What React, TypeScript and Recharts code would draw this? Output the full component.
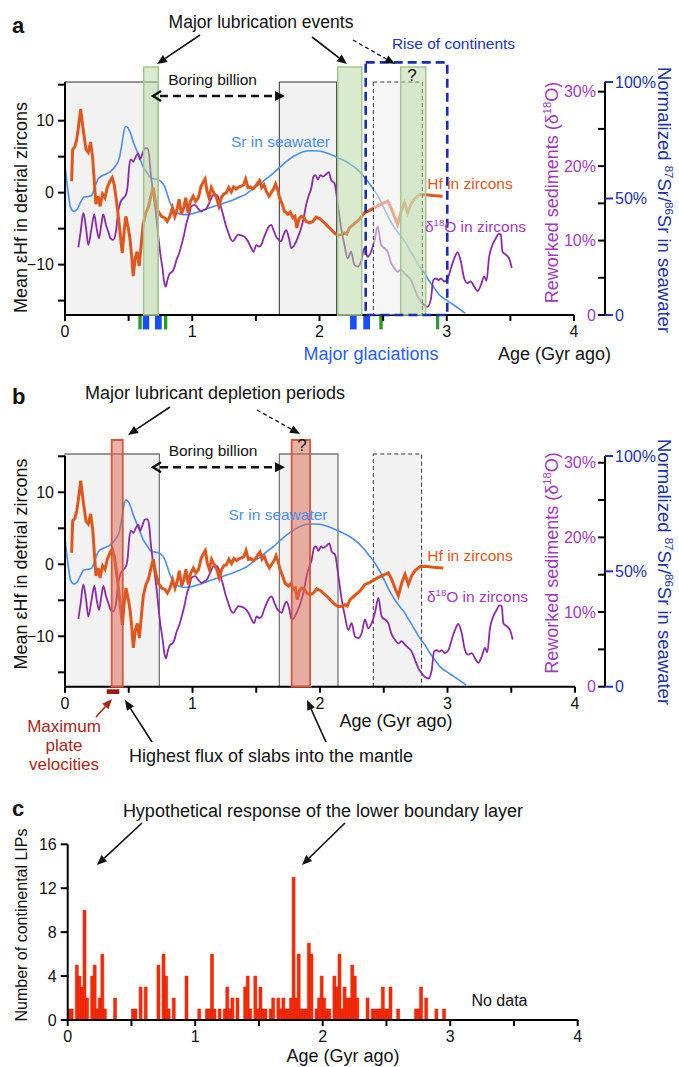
import React from 'react';
import {
  ComposedChart,
  Bar,
  Line,
  XAxis,
  YAxis,
  ReferenceArea,
  ReferenceLine,
} from 'recharts';

const FONT = '"Liberation Sans", Arial, Helvetica, sans-serif';

// ---------- data (age in Gyr ago) ----------
// mean εHf in detrital zircons
const hfCurve: [number, number][] = [
  [0.052, 1.6], [0.06, 6.0], [0.078, 6.4], [0.092, 7.4], [0.105, 9.0], [0.123, 11.6], [0.144, 8.6],
  [0.165, 6.0], [0.183, 5.6], [0.201, 7.0], [0.217, 4.9], [0.23, 1.6], [0.243, -1.6], [0.261, -0.5],
  [0.275, -1.9], [0.295, -0.2], [0.314, -0.7], [0.332, 0.7], [0.353, 1.6], [0.371, 2.1], [0.387, 1.1],
  [0.405, -1.2], [0.426, -4.4], [0.439, -6.7], [0.45, -8.4], [0.465, -5.3], [0.478, -3.3], [0.497, -4.9],
  [0.51, -6.3], [0.523, -8.6], [0.536, -11.6], [0.552, -9.1], [0.567, -8.2], [0.583, -10.2], [0.599, -7.2],
  [0.614, -4.4], [0.635, -2.8], [0.654, -2.1], [0.672, -0.7], [0.693, 0.7], [0.711, -1.2], [0.732, -2.6],
  [0.758, -3.3], [0.784, -3.5], [0.803, -4.0], [0.824, -3.3], [0.844, -2.1], [0.863, -3.3], [0.881, -2.3],
  [0.897, -0.9], [0.915, -3.0], [0.933, -2.1], [0.949, -0.7], [0.967, -2.8], [0.986, -1.2], [1.007, -0.5],
  [1.027, -1.2], [1.048, -0.7], [1.069, 0.9], [1.09, 1.6], [1.101, 1.9], [1.116, 0.2], [1.132, -0.7],
  [1.15, 0.7], [1.169, 0.0], [1.19, -0.7], [1.21, -1.9], [1.229, -0.7], [1.247, -0.2], [1.268, 0.0],
  [1.286, 0.7], [1.307, 0.1], [1.325, 0.8], [1.346, 0.5], [1.367, 0.8], [1.386, 0.9], [1.404, 1.1],
  [1.42, 1.9], [1.438, 0.7], [1.456, 0.8], [1.477, 0.5], [1.498, 0.9], [1.516, 1.4], [1.529, 1.7],
  [1.545, 0.7], [1.563, 1.1], [1.582, 0.2], [1.603, -0.5], [1.621, 0.0], [1.639, 0.5], [1.655, 1.2],
  [1.673, 0.3], [1.686, -0.7], [1.707, -1.6], [1.725, -2.6], [1.752, -3.0], [1.77, -2.7], [1.791, -3.5],
  [1.807, -3.3], [1.822, -4.9], [1.838, -3.7], [1.856, -3.3], [1.875, -3.4], [1.895, -4.0], [1.922, -4.2],
  [1.948, -4.0], [1.974, -3.4], [2.0, -3.6], [2.026, -4.0], [2.052, -4.4], [2.078, -4.9], [2.118, -5.6],
  [2.144, -5.9], [2.178, -5.8], [2.196, -5.6], [2.214, -5.8], [2.235, -4.9], [2.275, -4.3], [2.314, -3.7],
  [2.353, -2.8], [2.392, -2.5], [2.431, -2.1], [2.471, -1.7], [2.51, -1.4], [2.536, -1.2], [2.562, -2.1],
  [2.588, -3.3], [2.614, -4.4], [2.641, -2.6], [2.667, -1.4], [2.693, -2.8], [2.719, -1.6], [2.745, -0.9],
  [2.784, -0.3], [2.837, -0.3], [2.889, -0.4], [2.967, -0.5],
];

// reworked sediments from δ18O in zircons (%)
const o18Curve: [number, number][] = [
  [0.105, 9.1], [0.123, 11.2], [0.144, 13.7], [0.165, 11.7], [0.183, 9.4], [0.209, 11.7], [0.23, 13.5],
  [0.248, 11.7], [0.267, 10.3], [0.285, 12.1], [0.301, 13.5], [0.322, 12.1], [0.34, 11.2], [0.358, 10.3],
  [0.379, 10.1], [0.4, 11.2], [0.418, 13.9], [0.437, 15.2], [0.458, 15.7], [0.478, 16.1], [0.492, 17.3],
  [0.505, 20.0], [0.518, 20.9], [0.536, 20.6], [0.557, 21.3], [0.575, 21.7], [0.588, 20.9], [0.609, 21.7],
  [0.627, 22.4], [0.646, 22.4], [0.661, 21.5], [0.672, 19.3], [0.688, 17.0], [0.703, 15.2], [0.719, 13.0],
  [0.735, 10.3], [0.75, 8.1], [0.766, 6.3], [0.779, 4.5], [0.792, 3.8], [0.805, 4.7], [0.824, 5.6],
  [0.842, 5.8], [0.858, 6.3], [0.876, 7.4], [0.897, 8.3], [0.915, 9.4], [0.936, 10.8], [0.954, 12.3],
  [0.975, 13.5], [0.993, 14.6], [1.02, 14.8], [1.046, 14.3], [1.072, 13.9], [1.09, 14.1], [1.111, 14.3],
  [1.132, 15.0], [1.15, 15.7], [1.163, 16.1], [1.184, 16.2], [1.203, 15.9], [1.221, 14.8], [1.242, 13.5],
  [1.263, 12.1], [1.281, 11.2], [1.299, 10.3], [1.32, 9.9], [1.341, 10.4], [1.36, 10.8], [1.386, 10.7],
  [1.412, 10.5], [1.438, 9.9], [1.464, 9.0], [1.482, 8.5], [1.503, 9.4], [1.524, 9.2], [1.542, 9.4],
  [1.561, 10.3], [1.582, 11.2], [1.603, 11.9], [1.621, 12.1], [1.639, 11.4], [1.66, 10.5], [1.681, 10.1],
  [1.699, 9.9], [1.718, 10.8], [1.739, 11.4], [1.76, 10.3], [1.778, 9.0], [1.796, 9.2], [1.817, 9.9],
  [1.838, 10.8], [1.856, 11.7], [1.875, 13.0], [1.895, 14.8], [1.916, 16.1], [1.935, 17.0], [1.953, 18.6],
  [1.969, 18.8], [1.987, 18.2], [2.008, 18.8], [2.026, 18.6], [2.052, 18.9], [2.073, 19.2], [2.092, 18.1],
  [2.118, 17.7], [2.144, 14.8], [2.17, 11.7], [2.196, 9.4], [2.222, 7.6], [2.248, 8.5], [2.275, 6.7],
  [2.301, 6.5], [2.327, 7.2], [2.353, 9.0], [2.379, 7.8], [2.405, 8.5], [2.431, 9.9], [2.458, 11.9],
  [2.484, 9.4], [2.51, 9.0], [2.536, 8.5], [2.562, 7.0], [2.588, 6.3], [2.614, 5.8], [2.641, 6.1],
  [2.667, 5.6], [2.693, 5.2], [2.719, 4.7], [2.745, 3.6], [2.771, 2.5], [2.797, 1.8], [2.824, 1.3],
  [2.85, 1.1], [2.876, 2.2], [2.894, 4.7], [2.915, 4.9], [2.936, 4.7], [2.954, 4.9], [2.98, 4.5],
  [3.007, 4.9], [3.033, 6.3], [3.059, 7.6], [3.085, 8.4], [3.111, 7.2], [3.137, 4.9], [3.163, 4.3],
  [3.19, 4.5], [3.216, 3.8], [3.242, 3.2], [3.268, 4.0], [3.294, 5.2], [3.312, 4.6], [3.333, 7.8],
  [3.359, 9.4], [3.386, 10.3], [3.407, 10.9], [3.425, 10.8], [3.438, 8.5], [3.464, 8.1], [3.49, 7.6],
  [3.511, 6.3],
];

// normalized 87Sr/86Sr in seawater (%)
const srCurve: [number, number][] = [
  [0.0, 64.3], [0.026, 52.0], [0.044, 46.2], [0.071, 44.5], [0.097, 45.5], [0.123, 48.4], [0.149, 50.6],
  [0.183, 50.9], [0.209, 51.3], [0.235, 54.9], [0.261, 58.5], [0.301, 60.0], [0.353, 61.4], [0.392, 63.6],
  [0.426, 67.2], [0.444, 72.3], [0.458, 77.3], [0.476, 80.9], [0.497, 80.2], [0.515, 78.0], [0.536, 74.4],
  [0.562, 70.8], [0.588, 67.2], [0.614, 63.6], [0.641, 61.4], [0.667, 59.2], [0.693, 58.5], [0.732, 58.1],
  [0.758, 57.2], [0.784, 55.0], [0.803, 52.0], [0.824, 48.4], [0.85, 45.5], [0.876, 44.1], [0.902, 43.4],
  [0.928, 43.1], [0.967, 43.1], [1.007, 43.6], [1.059, 44.4], [1.111, 45.5], [1.163, 46.5], [1.216, 47.4],
  [1.268, 48.4], [1.32, 49.4], [1.373, 50.6], [1.425, 52.0], [1.477, 54.2], [1.529, 56.1], [1.582, 58.5],
  [1.634, 60.7], [1.686, 63.3], [1.739, 65.8], [1.791, 67.9], [1.843, 69.4], [1.895, 70.4], [1.948, 70.5],
  [2.0, 70.4], [2.078, 69.1], [2.157, 67.2], [2.235, 65.0], [2.288, 62.9], [2.34, 60.0], [2.392, 56.4],
  [2.431, 53.5], [2.471, 49.9], [2.51, 45.5], [2.549, 41.2], [2.588, 37.6], [2.627, 34.7], [2.667, 31.8],
  [2.706, 28.2], [2.745, 24.6], [2.784, 21.0], [2.824, 18.1], [2.863, 14.5], [2.902, 11.6], [2.941, 8.7],
  [2.993, 6.5], [3.046, 4.6], [3.098, 2.6], [3.145, 0.7],
];

// number of continental LIPs per 20 Myr bin (bin start age, count)
const lipAges = [
  0.0, 0.02, 0.06, 0.08, 0.1, 0.12, 0.14, 0.18, 0.2, 0.22, 0.24, 0.26, 0.28, 0.36, 0.5, 0.52, 0.56, 0.6,
  0.7, 0.74, 0.76, 0.78, 0.82, 0.92, 1.02, 1.08, 1.1, 1.12, 1.14, 1.18, 1.22, 1.24, 1.26, 1.28, 1.32,
  1.38, 1.4, 1.42, 1.46, 1.48, 1.5, 1.52, 1.54, 1.58, 1.6, 1.64, 1.66, 1.68, 1.7, 1.72, 1.74, 1.76, 1.78,
  1.8, 1.82, 1.84, 1.86, 1.88, 1.9, 1.94, 1.96, 1.98, 2.0, 2.02, 2.04, 2.08, 2.1, 2.12, 2.14, 2.16, 2.18,
  2.2, 2.22, 2.24, 2.26, 2.34, 2.38, 2.4, 2.42, 2.44, 2.46, 2.48, 2.5, 2.52, 2.58, 2.72, 2.74, 2.76, 2.8,
  2.88, 2.94,
];
const lipCounts = [
  1, 1, 5, 4, 3, 10, 2, 4, 5, 1, 2, 6, 1, 2, 1, 1, 3, 3,
  5, 6, 4, 1, 2, 4, 1, 1, 1, 6, 1, 1, 1, 3, 1, 2, 2,
  3, 4, 1, 4, 1, 3, 1, 1, 1, 2, 2, 1, 2, 1, 1, 2, 13, 2,
  6, 1, 1, 1, 7, 6, 1, 2, 4, 2, 1, 1, 4, 3, 6, 1, 3, 2,
  2, 5, 4, 2, 2, 1, 1, 1, 1, 3, 1, 1, 3, 1, 1, 1, 3, 2,
  1, 1,
];

// shaded intervals (Gyr)
const grayBoxesA: [number, number][] = [[0, 0.733], [1.684, 2.135]];
const greenBarsA: [number, number][] = [[0.618, 0.733], [2.143, 2.332], [2.638, 2.835]];
const riseOfContinents: [number, number] = [2.363, 3.004];
const dashedBoxA: [number, number] = [2.423, 2.808];
const glacBlue: [number, number][] = [[0.611, 0.662], [0.707, 0.76], [2.24, 2.292], [2.344, 2.397]];
const glacGreen: [number, number][] = [[0.576, 0.603], [0.778, 0.804], [2.47, 2.497], [2.916, 2.941]];

const grayBoxesB: [number, number][] = [[0, 0.74], [1.681, 2.141]];
const dashedBoxB: [number, number] = [2.418, 2.797];
const redBarsB: [number, number][] = [[0.366, 0.453], [1.778, 1.922]];
const maxPlateVel: [number, number] = [0.327, 0.426];

// ticks
const AGE_TICKS = [0, 0.5, 1, 1.5, 2, 2.5, 3, 3.5, 4];
const HF_TICKS = [-15, -10, -5, 0, 5, 10, 15];
const O_TICKS = [0, 5, 10, 15, 20, 25, 30];
const O_LABELED = [0, 10, 20, 30];
const SR_TICKS = [0, 50, 100];
const LIP_TICKS = [0, 4, 8, 12, 16];

// ---------- colours ----------
const HF_COLOR = '#e0571b';
const O_COLOR = '#8c2ba8';
const SR_COLOR = '#4a8ef2';
const O_LABEL = '#a03bbd';
const SR_AXIS = '#2233a8';

const toPts = (arr: [number, number][]) => arr.map(([age, v]) => ({ age, v }));
const hfData = toPts(hfCurve);
const o18Data = toPts(o18Curve);
const srData = toPts(srCurve);

const BIN = 0.02;
const lipTable = Array.from({ length: 200 }, (_, i) => {
  const k = lipAges.findIndex((a) => Math.round(a / BIN) === i);
  return { bin: i, age: i * BIN + BIN / 2, n: k >= 0 ? lipCounts[k] : 0 };
});

const ageFmt = (v: number) => (Number.isInteger(v) ? String(v) : '');
const hfFmt = (v: number) => (v % 10 === 0 ? (v < 0 ? '\u2212' + Math.abs(v) : String(v)) : '');

const tickStyle = { fill: '#111', fontSize: 16, fontFamily: FONT };

function rightTicks(oMax: number) {
  const all = [...O_TICKS, ...SR_TICKS.map((s) => (s * oMax) / 100)];
  return Array.from(new Set(all)).sort((a, b) => a - b);
}

function RightTick(props: any) {
  const { x, y, payload, oMax } = props;
  const v = payload.value as number;
  const isO = O_TICKS.some((t) => Math.abs(t - v) < 1e-6);
  const sr = SR_TICKS.find((s) => Math.abs((s * oMax) / 100 - v) < 1e-6);
  return (
    <g>
      {isO && <line x1={x - 7} x2={x} y1={y} y2={y} stroke="#000" strokeWidth={2} />}
      {isO && O_LABELED.includes(v) && (
        <text x={x - 9} y={y} dy="0.36em" textAnchor="end" fill={O_LABEL} fontSize={16} fontFamily={FONT}>
          {v === 0 ? '0' : `${v}%`}
        </text>
      )}
      {sr !== undefined && <line x1={x} x2={x + 8} y1={y} y2={y} stroke={SR_AXIS} strokeWidth={2} />}
      {sr !== undefined && (
        <text x={x + 10} y={y} dy="0.36em" textAnchor="start" fill={SR_AXIS} fontSize={16} fontFamily={FONT}>
          {sr === 0 ? '0' : `${sr}%`}
        </text>
      )}
    </g>
  );
}

// ---------- panel a ----------
function PanelA() {
  const xMax = 4.2436;
  const hfMin = -17;
  const hfMax = 15.375;
  const oMax = 31.3;
  return (
    <div style={{ position: 'absolute', left: 0, top: 0 }}>
      <ComposedChart width={679} height={370} margin={{ top: 82, right: 14, bottom: 25, left: 20 }}>
        <XAxis
          dataKey="age"
          type="number"
          domain={[0, xMax]}
          allowDataOverflow
          ticks={AGE_TICKS}
          interval={0}
          tickFormatter={ageFmt}
          axisLine={false}
          tickLine={{ stroke: '#000', strokeWidth: 2 }}
          tickSize={6}
          tickMargin={5}
          height={30}
          tick={tickStyle}
        />
        <YAxis
          yAxisId="hf"
          domain={[hfMin, hfMax]}
          allowDataOverflow
          ticks={HF_TICKS}
          interval={0}
          tickFormatter={hfFmt}
          width={45}
          axisLine={{ stroke: '#000', strokeWidth: 2 }}
          tickLine={{ stroke: '#000', strokeWidth: 2 }}
          tickSize={7}
          tickMargin={4}
          tick={tickStyle}
        />
        <YAxis
          yAxisId="o"
          orientation="right"
          domain={[0, oMax]}
          allowDataOverflow
          ticks={rightTicks(oMax)}
          interval={0}
          width={60}
          axisLine={{ stroke: '#000', strokeWidth: 2 }}
          tickLine={false}
          tickSize={0}
          tickMargin={0}
          tick={(p: any) => <RightTick {...p} oMax={oMax} />}
        />
        <YAxis yAxisId="sr" hide domain={[0, 100]} allowDataOverflow />

        {grayBoxesA.map(([a, b], i) => (
          <ReferenceArea
            key={'ga' + i}
            yAxisId="hf"
            x1={a}
            x2={b}
            y1={hfMin}
            y2={hfMax}
            fill="#f2f2f2"
            fillOpacity={1}
            stroke="#2d2d2d"
            strokeWidth={1}
            ifOverflow="visible"
          />
        ))}

        <Line data={srData} dataKey="v" yAxisId="sr" type="monotone" stroke={SR_COLOR} strokeWidth={1.6} dot={false} isAnimationActive={false} />
        <Line data={o18Data} dataKey="v" yAxisId="o" type="monotone" stroke={O_COLOR} strokeWidth={1.8} dot={false} isAnimationActive={false} />
        <Line data={hfData} dataKey="v" yAxisId="hf" type="linear" stroke={HF_COLOR} strokeWidth={3} dot={false} isAnimationActive={false} />

        <ReferenceArea
          yAxisId="hf"
          x1={dashedBoxA[0]}
          x2={dashedBoxA[1]}
          y1={hfMin}
          y2={hfMax}
          fill="#eeeeee"
          fillOpacity={0.55}
          stroke="#333"
          strokeWidth={1}
          strokeDasharray="4 3"
          ifOverflow="visible"
          zIndex={450}
        />
        {greenBarsA.map(([a, b], i) => (
          <ReferenceArea
            key={'gr' + i}
            yAxisId="hf"
            x1={a}
            x2={b}
            y1={hfMin}
            y2={17.46}
            fill="#b3d59d"
            fillOpacity={0.5}
            stroke="#a2c98b"
            strokeWidth={1.5}
            ifOverflow="visible"
            zIndex={460}
          />
        ))}
        <ReferenceArea
          yAxisId="hf"
          x1={riseOfContinents[0]}
          x2={riseOfContinents[1]}
          y1={hfMin}
          y2={18.1}
          fill="none"
          fillOpacity={0}
          stroke="#1b2eb0"
          strokeWidth={2.6}
          strokeDasharray="9 5"
          ifOverflow="visible"
          zIndex={470}
        />
        {glacBlue.map(([a, b], i) => (
          <ReferenceArea key={'gb' + i} yAxisId="hf" x1={a} x2={b} y1={-17.1} y2={-19} fill="#1a4cff" fillOpacity={1} stroke="none" ifOverflow="visible" />
        ))}
        {glacGreen.map(([a, b], i) => (
          <ReferenceArea key={'gg' + i} yAxisId="hf" x1={a} x2={b} y1={-17.1} y2={-19} fill="#279a2a" fillOpacity={1} stroke="none" ifOverflow="visible" />
        ))}
        <ReferenceLine
          yAxisId="hf"
          segment={[{ x: 0, y: hfMin }, { x: 4, y: hfMin }]}
          stroke="#000"
          strokeWidth={2}
          ifOverflow="visible"
        />
      </ComposedChart>
    </div>
  );
}

// ---------- panel b ----------
function PanelB() {
  const xMax = 4.2353;
  const hfMin = -17;
  const hfMax = 15.04;
  const oMax = 30.9;
  return (
    <div style={{ position: 'absolute', left: 0, top: 375 }}>
      <ComposedChart width={679} height={400} margin={{ top: 81, right: 14, bottom: 58.3, left: 20 }}>
        <XAxis
          dataKey="age"
          type="number"
          domain={[0, xMax]}
          allowDataOverflow
          ticks={AGE_TICKS}
          interval={0}
          tickFormatter={ageFmt}
          axisLine={false}
          tickLine={{ stroke: '#000', strokeWidth: 2 }}
          tickSize={6}
          tickMargin={5}
          height={30}
          tick={tickStyle}
        />
        <YAxis
          yAxisId="hf"
          domain={[hfMin, hfMax]}
          allowDataOverflow
          ticks={HF_TICKS}
          interval={0}
          tickFormatter={hfFmt}
          width={45}
          axisLine={{ stroke: '#000', strokeWidth: 2 }}
          tickLine={{ stroke: '#000', strokeWidth: 2 }}
          tickSize={7}
          tickMargin={4}
          tick={tickStyle}
        />
        <YAxis
          yAxisId="o"
          orientation="right"
          domain={[0, oMax]}
          allowDataOverflow
          ticks={rightTicks(oMax)}
          interval={0}
          width={60}
          axisLine={{ stroke: '#000', strokeWidth: 2 }}
          tickLine={false}
          tickSize={0}
          tickMargin={0}
          tick={(p: any) => <RightTick {...p} oMax={oMax} />}
        />
        <YAxis yAxisId="sr" hide domain={[0, 100]} allowDataOverflow />

        {grayBoxesB.map(([a, b], i) => (
          <ReferenceArea
            key={'gb' + i}
            yAxisId="hf"
            x1={a}
            x2={b}
            y1={hfMin}
            y2={15.32}
            fill="#f2f2f2"
            fillOpacity={1}
            stroke="#777"
            strokeWidth={1.3}
            ifOverflow="visible"
          />
        ))}
        <ReferenceArea
          yAxisId="hf"
          x1={dashedBoxB[0]}
          x2={dashedBoxB[1]}
          y1={hfMin}
          y2={15.32}
          fill="#f2f2f2"
          fillOpacity={1}
          stroke="#333"
          strokeWidth={1}
          strokeDasharray="4 3"
          ifOverflow="visible"
        />

        <Line data={srData} dataKey="v" yAxisId="sr" type="monotone" stroke={SR_COLOR} strokeWidth={1.6} dot={false} isAnimationActive={false} />
        <Line data={o18Data} dataKey="v" yAxisId="o" type="monotone" stroke={O_COLOR} strokeWidth={1.8} dot={false} isAnimationActive={false} />
        <Line data={hfData} dataKey="v" yAxisId="hf" type="linear" stroke={HF_COLOR} strokeWidth={3} dot={false} isAnimationActive={false} />

        {redBarsB.map(([a, b], i) => (
          <ReferenceArea
            key={'rb' + i}
            yAxisId="hf"
            x1={a}
            x2={b}
            y1={hfMin}
            y2={17.26}
            fill="#df6a52"
            fillOpacity={0.52}
            stroke="#d6583a"
            strokeWidth={1.8}
            ifOverflow="visible"
            zIndex={460}
          />
        ))}
        <ReferenceArea
          yAxisId="hf"
          x1={maxPlateVel[0]}
          x2={maxPlateVel[1]}
          y1={-17.36}
          y2={-18.01}
          fill="#9b1a0e"
          fillOpacity={1}
          stroke="none"
          ifOverflow="visible"
        />
        <ReferenceLine
          yAxisId="hf"
          segment={[{ x: 0, y: hfMin }, { x: 4, y: hfMin }]}
          stroke="#000"
          strokeWidth={2}
          ifOverflow="visible"
        />
      </ComposedChart>
    </div>
  );
}

// ---------- panel c ----------
function PanelC() {
  return (
    <div style={{ position: 'absolute', left: 0, top: 780 }}>
      <ComposedChart
        width={679}
        height={287}
        data={lipTable}
        barCategoryGap={0}
        barGap={0}
        margin={{ top: 64.3, right: 101.3, bottom: 17, left: 22.7 }}
      >
        <XAxis xAxisId="bins" dataKey="bin" type="category" hide />
        <XAxis
          xAxisId="age"
          dataKey="age"
          type="number"
          domain={[0, 4]}
          allowDataOverflow
          ticks={AGE_TICKS}
          interval={0}
          tickFormatter={ageFmt}
          axisLine={{ stroke: '#000', strokeWidth: 2 }}
          tickLine={{ stroke: '#000', strokeWidth: 2 }}
          tickSize={6}
          tickMargin={5}
          height={30}
          tick={tickStyle}
        />
        <YAxis
          domain={[0, 16]}
          ticks={LIP_TICKS}
          interval={0}
          width={45}
          axisLine={{ stroke: '#000', strokeWidth: 2 }}
          tickLine={{ stroke: '#000', strokeWidth: 2 }}
          tickSize={7}
          tickMargin={4}
          tick={tickStyle}
        />
        <Bar xAxisId="bins" dataKey="n" fill="#ff2a00" stroke="#c41c00" strokeWidth={0.5} isAnimationActive={false} />
        <Line
          xAxisId="age"
          dataKey="n"
          stroke="none"
          strokeOpacity={0}
          dot={false}
          activeDot={false}
          legendType="none"
          isAnimationActive={false}
        />
      </ComposedChart>
    </div>
  );
}

// ---------- annotations ----------
function Arrow({ x1, y1, x2, y2, color = '#111', w = 1.6, dash, head = 10 }: any) {
  const ang = Math.atan2(y2 - y1, x2 - x1);
  const hx = x2 - head * Math.cos(ang);
  const hy = y2 - head * Math.sin(ang);
  const hw = head * 0.42;
  const p1 = `${hx + hw * Math.sin(ang)},${hy - hw * Math.cos(ang)}`;
  const p2 = `${hx - hw * Math.sin(ang)},${hy + hw * Math.cos(ang)}`;
  return (
    <g>
      <line x1={x1} y1={y1} x2={hx} y2={hy} stroke={color} strokeWidth={w} strokeDasharray={dash} />
      <polygon points={`${x2},${y2} ${p1} ${p2}`} fill={color} />
    </g>
  );
}

function DoubleArrow({ xa, xb, y }: any) {
  return (
    <g>
      <line x1={xa + 8} x2={xb - 8} y1={y} y2={y} stroke="#111" strokeWidth={2.6} strokeDasharray="8 5" />
      <polyline points={`${xa + 9},${y - 5} ${xa + 1},${y} ${xa + 9},${y + 5}`} fill="none" stroke="#111" strokeWidth={2.4} />
      <polygon points={`${xb},${y} ${xb - 10},${y - 5} ${xb - 10},${y + 5}`} fill="#111" />
    </g>
  );
}

function T({ x, y, size = 18, color = '#111', anchor = 'middle', weight = 400, rotate, children }: any) {
  return (
    <text
      x={x}
      y={y}
      fontSize={size}
      fill={color}
      textAnchor={anchor}
      fontWeight={weight}
      fontFamily={FONT}
      transform={rotate ? `rotate(${rotate}, ${x}, ${y})` : undefined}
    >
      {children}
    </text>
  );
}

function D18O({ size }: any) {
  return (
    <>
      δ<tspan fontSize={size * 0.62} dy={-size * 0.38}>18</tspan>
      <tspan dy={size * 0.38}>O</tspan>
    </>
  );
}

function SrLabel({ x, y }: any) {
  const s = 18.5;
  return (
    <text x={x} y={y} fontSize={s} fill={SR_AXIS} textAnchor="middle" fontFamily={FONT} transform={`rotate(90, ${x}, ${y})`}>
      Normalized <tspan fontSize={s * 0.62} dy={-s * 0.38}>87</tspan>
      <tspan dy={s * 0.38}>Sr/</tspan>
      <tspan fontSize={s * 0.62} dy={-s * 0.38}>86</tspan>
      <tspan dy={s * 0.38}>Sr in seawater</tspan>
    </text>
  );
}

function OLabel({ x, y }: any) {
  const s = 18;
  return (
    <text x={x} y={y} fontSize={s} fill={O_LABEL} textAnchor="middle" fontFamily={FONT} transform={`rotate(-90, ${x}, ${y})`}>
      Reworked sediments (δ<tspan fontSize={s * 0.62} dy={-s * 0.38}>18</tspan>
      <tspan dy={s * 0.38}>O)</tspan>
    </text>
  );
}

function Annotations() {
  const dark = '#a8271b';
  return (
    <svg
      width={679}
      height={1067}
      style={{ position: 'absolute', left: 0, top: 0, pointerEvents: 'none', overflow: 'visible' }}
    >
      {/* panel a */}
      <T x={12} y={33} size={22} weight={700} anchor="start">a</T>
      <T x={261} y={28} size={17.5}>Major lubrication events</T>
      <Arrow x1={200} y1={35} x2={157} y2={64} />
      <Arrow x1={312} y1={37} x2={347} y2={64} />
      <Arrow x1={353} y1={40} x2={395} y2={64} dash="4 3" w={1.3} />
      <T x={212.5} y={85} size={15.5}>Boring billion</T>
      <DoubleArrow xa={152} xb={285} y={96} />
      <T x={453.5} y={48.5} size={15.5} color="#2535b0">Rise of continents</T>
      <T x={412} y={81} size={17}>?</T>
      <T x={280.5} y={146.5} size={15.5} color={SR_COLOR}>Sr in seawater</T>
      <T x={470} y={189} size={15.5} color={HF_COLOR}>Hf in zircons</T>
      <T x={475.5} y={231.5} size={15.5} color={O_LABEL}>
        <D18O size={15.5} /> in zircons
      </T>
      <OLabel x={558} y={192.5} />
      <SrLabel x={658} y={200} />
      <T x={371} y={360} size={18} color="#2a5cff">Major glaciations</T>
      <T x={554.5} y={360} size={18}>Age (Gyr ago)</T>
      <T x={27} y={207.5} size={18} rotate={-90}>Mean εHf in detrial zircons</T>

      {/* panel b */}
      <T x={12} y={404} size={22} weight={700} anchor="start">b</T>
      <T x={215} y={399} size={18}>Major lubricant depletion periods</T>
      <Arrow x1={170} y1={407} x2={128} y2={435} />
      <Arrow x1={257} y1={410} x2={300} y2={434} dash="4 3" w={1.3} />
      <T x={302} y={451} size={17}>?</T>
      <T x={213} y={456} size={15.5}>Boring billion</T>
      <DoubleArrow xa={152} xb={285} y={467.3} />
      <T x={278} y={520} size={15.5} color={SR_COLOR}>Sr in seawater</T>
      <T x={470} y={561} size={15.5} color={HF_COLOR}>Hf in zircons</T>
      <T x={477.5} y={601.5} size={15.5} color={O_LABEL}>
        <D18O size={15.5} /> in zircons
      </T>
      <OLabel x={558} y={563} />
      <SrLabel x={658} y={572} />
      <T x={396} y={727} size={18}>Age (Gyr ago)</T>
      <T x={27} y={564} size={18} rotate={-90}>Mean εHf in detrial zircons</T>
      <T x={64} y={732} size={17} color={dark}>Maximum</T>
      <T x={64} y={751} size={17} color={dark}>plate</T>
      <T x={64} y={770} size={17} color={dark}>velocities</T>
      <Arrow x1={96} y1={717} x2={112} y2={699} color={dark} />
      <Arrow x1={152} y1={742} x2={125} y2={700} />
      <Arrow x1={326} y1={742} x2={307} y2={700} />
      <T x={271} y={761.5} size={18}>Highest flux of slabs into the mantle</T>

      {/* panel c */}
      <T x={12} y={816} size={22} weight={700} anchor="start">c</T>
      <T x={323} y={817} size={18}>Hypothetical response of the lower boundary layer</T>
      <Arrow x1={142} y1={823} x2={97} y2={865} />
      <Arrow x1={345} y1={823} x2={302} y2={865} />
      <T x={27} y={925} size={16} rotate={-90}>Number of continental LIPs</T>
      <T x={499.5} y={1005.5} size={16}>No data</T>
      <T x={343} y={1061.5} size={18}>Age (Gyr ago)</T>
    </svg>
  );
}

export default function App() {
  return (
    <div
      style={{
        position: 'absolute',
        left: 0,
        top: 0,
        width: 679,
        height: 1067,
        background: '#fff',
        fontFamily: FONT,
        overflow: 'hidden',
      }}
    >
      <PanelA />
      <PanelB />
      <PanelC />
      <Annotations />
    </div>
  );
}
